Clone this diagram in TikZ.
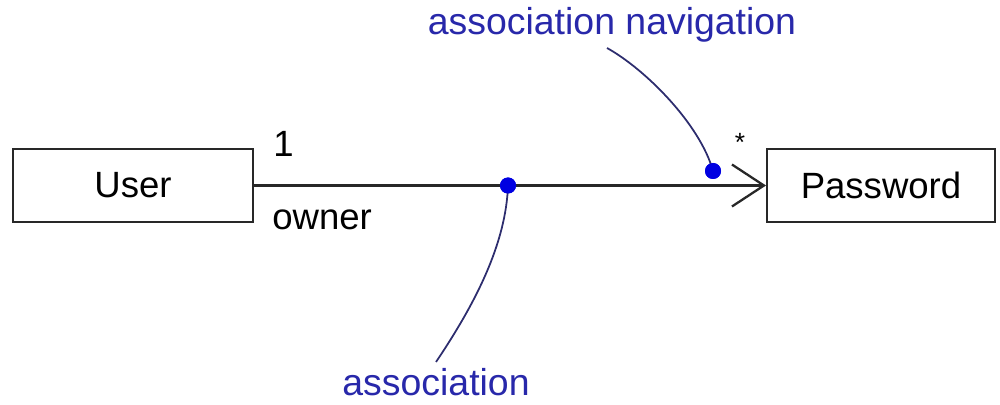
\documentclass[tikz,border=0pt]{standalone}
\usepackage{fontspec}
\setmainfont{Liberation Sans}
\usetikzlibrary{arrows.meta,positioning}
\definecolor{NoteBlue}{RGB}{40, 40, 170}
\definecolor{DotBlue}{RGB}{0, 0, 225}
\definecolor{LeaderNavy}{RGB}{45, 45, 110}
\definecolor{EdgeGray}{RGB}{40, 40, 40}

\begin{document}
\begin{tikzpicture}[every node/.style={font=\fontsize{20.8}{25}\selectfont},
  classbox/.style={draw=EdgeGray, line width=1.1pt, minimum height=1.46cm, inner sep=0pt},
  assoc/.style={draw=EdgeGray, line width=1.3pt},
  leader/.style={draw=LeaderNavy, line width=1pt},
  dot/.style={circle, fill=DotBlue, minimum size=0.32cm, inner sep=0pt},
  note/.style={text=NoteBlue, inner sep=0pt, font=\fontsize{21.3}{25}\selectfont}]
          \useasboundingbox (0, 0) rectangle (20, 8.08);
          % Classes
          \node[classbox, minimum width=4.8cm] (user) at (2.66, 4.37) {User};
          \node[classbox, minimum width=4.56cm] (pass) at (17.62, 4.37) {Password};
          % Association with navigation arrow
          \draw[assoc, -{Straight Barb[length=0.64cm, width=0.84cm]}] (user.east) -- (pass.west);
          \node[inner sep=0pt, anchor=base west] (one) at (5.46, 4.94) {1};
          \node[inner sep=0pt, anchor=base west] (owner) at (5.44, 3.48) {owner};
          \node[inner sep=0pt, anchor=base, font=\fontsize{15}{18}\selectfont] (many) at (14.8, 5.05) {*};
          % Notes
          \node[note, anchor=base] (navnote) at (12.24, 7.38) {association navigation};
          \node[note, anchor=base] (assocnote) at (8.72, 0.18) {association};
          \coordinate (navend) at (12.14, 7.12);
          \coordinate (assocend) at (8.72, 0.84);
          \node[dot] (assocdot) at (10.16, 4.37) {};
          \node[dot] (navdot) at (14.26, 4.66) {};
          \draw[leader] (assocdot.center) .. controls (10.12, 3.2) and (9.5, 2.0) .. (assocend);
          \draw[leader] (navend) .. controls (12.9, 6.7) and (14.0, 5.6) .. (navdot.center);
          \node[dot] at (assocdot) {};
          \node[dot] at (navdot) {};
        \end{tikzpicture}
\end{document}
